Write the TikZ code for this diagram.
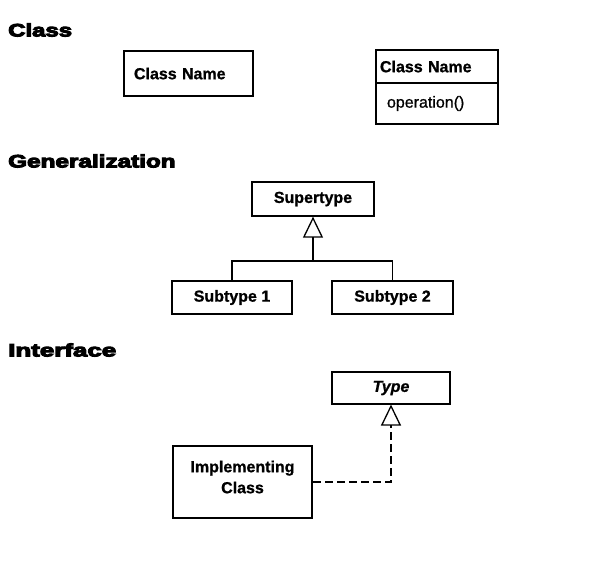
\documentclass[tikz,border=0pt]{standalone}
\usepackage{fontspec}
\setmainfont{Liberation Sans}
\newfontfamily\heavyfont{Liberation Sans}[UprightFont={* Bold}, FakeBold=5]
\newfontfamily\boxfont{Liberation Sans}[UprightFont={* Bold}, ItalicFont={* Bold Italic}, FakeBold=1]
\newfontfamily\opfont{Liberation Sans}[FakeBold=0.8]
\usetikzlibrary{arrows.meta}
\begin{document}
\begin{tikzpicture}[x=1pt,y=-1pt,
  title/.style={anchor=west, inner sep=0pt, font=\heavyfont\fontsize{18}{20}\selectfont},
  box/.style={draw, line width=1.3pt, rectangle, inner sep=0pt, font=\boxfont\fontsize{16}{19}\selectfont},
  thickbox/.style={box, line width=2.3pt},
  conn/.style={line width=1.3pt},
  tri/.style={-{Triangle[open, length=21pt, width=20pt, line width=1.3pt]}},
  dashedconn/.style={conn, dash pattern=on 8pt off 4pt},
]
\useasboundingbox (0,0) rectangle (615,579);
% titles
\node[title] (t1) at (8,30) {\scalebox{1.33}[1]{Class}};
\node[title] (t2) at (8,161) {\scalebox{1.35}[1]{Generalization}};
\node[title] (t3) at (8,350) {\scalebox{1.44}[1]{Interface}};
% class
\node[thickbox, text width=109pt, inner xsep=10pt, align=left, minimum height=45pt] (c1) at (188.5,73.5) {Class Name};
\node[thickbox, text width=114pt, inner xsep=4pt, align=left, minimum height=33pt] (c2top) at (437,66.5) {Class Name};
\node[thickbox, text width=100pt, inner xsep=11pt, align=left, minimum height=41pt, font=\opfont\fontsize{16}{19}\selectfont] (c2bot) at (437,103.5) {operation()};
% generalization
\node[box, minimum width=122pt, minimum height=34pt] (sup) at (313,199) {Supertype};
\node[box, minimum width=120pt, minimum height=33pt] (sub1) at (232,297.5) {Subtype 1};
\node[box, minimum width=121pt, minimum height=33pt] (sub2) at (392.5,297.5) {Subtype 2};
\coordinate (j) at (313,261);
\draw[conn] (sub1.north) |- (j) -| (sub2.north);
\draw[conn, tri] (j) -- (sup.south);
% interface
\node[box, line width=1.1pt, minimum width=118pt, minimum height=32pt, font=\boxfont\itshape\fontsize{16}{19}\selectfont] (type) at (391,388) {Type};
\node[thickbox, minimum width=139pt, minimum height=72pt] (impl) at (242.5,482) {};
\node[align=center, inner sep=0pt, font=\boxfont\fontsize{16}{21}\selectfont] (impltext) at (242.5,477) {Implementing\\Class};
\draw[dashedconn, tri] (impl.east) -| (type.south);
\end{tikzpicture}
\end{document}
